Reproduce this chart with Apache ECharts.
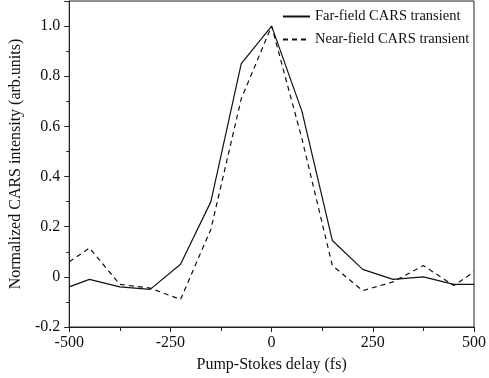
<!DOCTYPE html>
<html>
<head>
<meta charset="utf-8">
<script src="https://cdn.jsdelivr.net/npm/echarts@6/dist/echarts.min.js"></script>
<style>
  html, body { margin: 0; padding: 0; background: #fff; }
  #chart { width: 489px; height: 378px; }
</style>
</head>
<body>
<div id="chart"></div>
<script>
// delay (fs)
const delays = [-500, -450, -375, -300, -225, -150, -75, 0, 75, 150, 225, 300, 375, 450, 500]
// normalized CARS intensity
const farField = [-0.04, -0.01, -0.04, -0.05, 0.05, 0.30, 0.85, 1.0, 0.66, 0.145, 0.03, -0.01, 0.0, -0.03, -0.03]
const nearField = [0.06, 0.115, -0.03, -0.045, -0.09, 0.19, 0.71, 1.0, 0.55, 0.045, -0.055, -0.02, 0.045, -0.035, 0.02]

const xTicks = { min: -500, max: 500, interval: 250 }
const yTicks = { min: -0.2, max: 1.1, interval: 0.2 }

const serif = "Liberation Serif"
const axisColor = "#222"

const chart = echarts.init(document.getElementById("chart"))

const option = {
  animation: false,
  grid: {
    left: 54,
    right: 14,
    top: 1,
    bottom: 46,
    show: true,
    borderColor: axisColor,
    borderWidth: 1,
  },
  legend: {
    orient: "vertical",
    left: 282,
    top: 9,
    padding: 0,
    itemWidth: 27,
    itemHeight: 14,
    itemGap: 8,
    itemStyle: { opacity: 0 },
    textStyle: { fontFamily: serif, fontSize: 14.5, color: "#111" },
    data: ["Far-field CARS transient", "Near-field CARS transient"],
  },
  xAxis: {
    type: "value",
    min: xTicks.min,
    max: xTicks.max,
    interval: xTicks.interval,
    name: "Pump-Stokes delay (fs)",
    nameLocation: "middle",
    nameGap: 30,
    nameTextStyle: { fontFamily: serif, fontSize: 16, color: "#111" },
    axisLine: { onZero: false, lineStyle: { color: axisColor, width: 1 } },
    axisTick: { show: true, inside: false, length: 5, lineStyle: { color: axisColor } },
    minorTick: { show: true, splitNumber: 2, length: 4, lineStyle: { color: axisColor } },
    axisLabel: { fontFamily: serif, fontSize: 16, color: "#111", margin: 8 },
    splitLine: { show: false },
  },
  yAxis: {
    type: "value",
    min: yTicks.min,
    max: yTicks.max,
    interval: yTicks.interval,
    name: "Normalized CARS intensity (arb.units)",
    nameLocation: "middle",
    nameGap: 34,
    nameTextStyle: { fontFamily: serif, fontSize: 16, color: "#111" },
    axisLine: { show: true, onZero: false, lineStyle: { color: axisColor, width: 1 } },
    axisTick: { show: true, inside: false, length: 5, lineStyle: { color: axisColor } },
    minorTick: { show: true, splitNumber: 2, length: 3, lineStyle: { color: axisColor } },
    axisLabel: {
      fontFamily: serif,
      fontSize: 16,
      color: "#111",
      margin: 9,
      showMaxLabel: false,
      formatter: (v) => (Math.abs(v) < 1e-9 ? "0" : v.toFixed(1)),
    },
    splitLine: { show: false },
  },
  series: [
    {
      name: "Far-field CARS transient",
      type: "line",
      symbol: "none",
      data: delays.map((d, i) => [d, farField[i]]),
      lineStyle: { color: "#111", width: 1.2, type: "solid" },
      itemStyle: { color: "#111" },
    },
    {
      name: "Near-field CARS transient",
      type: "line",
      symbol: "none",
      data: delays.map((d, i) => [d, nearField[i]]),
      lineStyle: { color: "#111", width: 1.2, type: [5, 4] },
      itemStyle: { color: "#111" },
    },
  ],
}

chart.setOption(option)
</script>
</body>
</html>
